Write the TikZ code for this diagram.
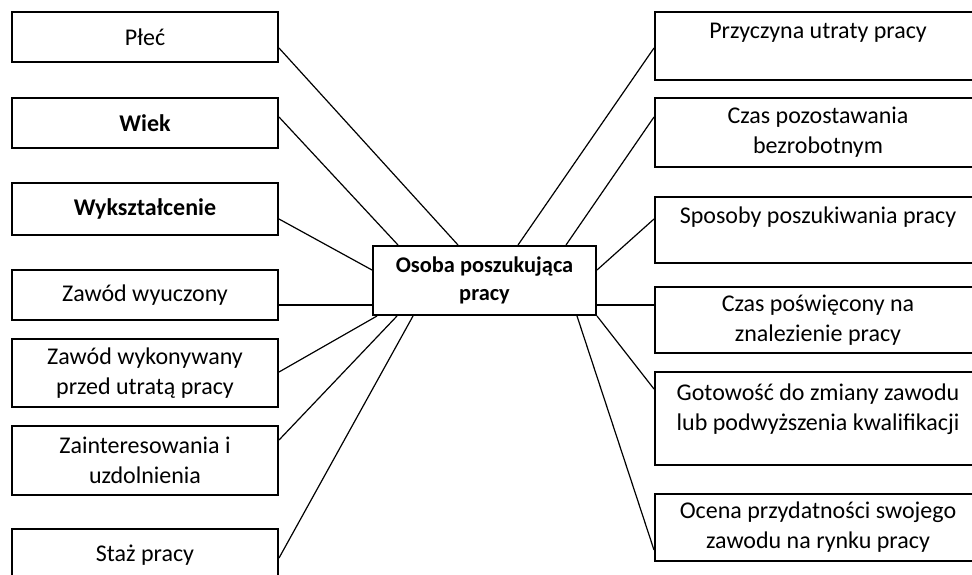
\documentclass[tikz,border=0pt]{standalone}
\usepackage{fontspec}
\setmainfont{Carlito}
\usetikzlibrary{calc}

\tikzset{
  ramka/.style={draw, line width=1pt, align=center, inner sep=0pt,
                font=\fontsize{12}{15}\selectfont},
  lewa/.style={ramka, minimum width=133pt},
  prawa/.style={ramka, minimum width=163pt},
  srodek/.style={ramka, minimum width=111.5pt, minimum height=34.5pt,
                 font=\fontsize{11.2}{14}\selectfont\bfseries},
  linia/.style={line width=0.6pt}
}

\begin{document}
\begin{tikzpicture}[x=0.5pt, y=-0.5pt]
                \useasboundingbox (0,0) rectangle (972,574);
                \clip (0,0) rectangle (972,574);

                % Central box
                \node[srodek] (os) at (484.5,280.5) {Osoba poszukująca\\pracy};

                % Left column
                \node[lewa, minimum height=25pt] (ple) at (145,37) {Płeć};
                \node[lewa, minimum height=25pt, font=\fontsize{12}{15}\selectfont\bfseries] (wie) at (145,123) {Wiek};
                \node[lewa, minimum height=26pt, font=\fontsize{12}{15}\selectfont\bfseries] (wyk) at (145,209) {Wykształcenie};
                \node[lewa, minimum height=25pt] (zwy) at (145,295) {Zawód wyuczony};
                \node[lewa, minimum height=34pt] (zwk) at (145,373) {Zawód wykonywany\\przed utratą pracy};
                \node[lewa, minimum height=34.5pt] (zai) at (145,460.5) {Zainteresowania i\\uzdolnienia};
                \node[lewa, minimum height=26pt] (sta) at (145,555) {Staż pracy};

                % Right column
                \node[prawa, minimum height=34pt] (prz) at (818,46) {Przyczyna utraty pracy\\~};
                \node[prawa, minimum height=34.5pt] (czp) at (818,132.5) {Czas pozostawania\\bezrobotnym};
                \node[prawa, minimum height=33pt] (spo) at (818,230) {Sposoby poszukiwania pracy\\~};
                \node[prawa, minimum height=33pt] (czs) at (818,320) {Czas poświęcony na\\znalezienie pracy};
                \node[prawa, minimum height=46.5pt] (got) at (818,418.5) {Gotowość do zmiany zawodu\\lub podwyższenia kwalifikacji\\[-4pt]~};
                \node[prawa, minimum height=33.5pt] (oce) at (818,527.5) {Ocena przydatności swojego\\zawodu na rynku pracy};

                % Drawing segments left column - os
                \draw[linia] ($(ple.east)+(0,11)$) -- ($(os.north)+(-26.5,0)$);
                \draw[linia] ($(wie.east)+(0,-6)$) -- ($(os.north)+(-86.5,0)$);
                \draw[linia] ($(wyk.east)+(0,10)$) -- ($(os.west)+(0,-10.5)$);
                \draw[linia] ($(zwy.east)+(0,10)$) -- ($(os.west)+(0,24.5)$);
                \draw[linia] ($(zwk.east)+(0,-1)$) -- ($(os.south west)+(5,0)$);
                \draw[linia] ($(zai.east)+(0,-20.5)$) -- ($(os.south)+(-87.5,0)$);
                \draw[linia] ($(sta.east)+(0,3)$) -- ($(os.south)+(-71.5,0)$);

                % Drawing segments right column - os
                \draw[linia] ($(prz.west)+(0,2)$) -- ($(os.north)+(33.5,0)$);
                \draw[linia] ($(czp.west)+(0,-15.5)$) -- ($(os.north)+(81.5,0)$);
                \draw[linia] ($(spo.west)+(0,-11)$) -- ($(os.east)+(0,-10.5)$);
                \draw[linia] ($(czs.west)+(0,-15)$) -- ($(os.east)+(0,24.5)$);
                \draw[linia] ($(got.west)+(0,-29.5)$) -- (os.south east);
                \draw[linia] ($(oce.west)+(0,22.5)$) -- ($(os.south)+(92.5,0)$);
\end{tikzpicture}
\end{document}
